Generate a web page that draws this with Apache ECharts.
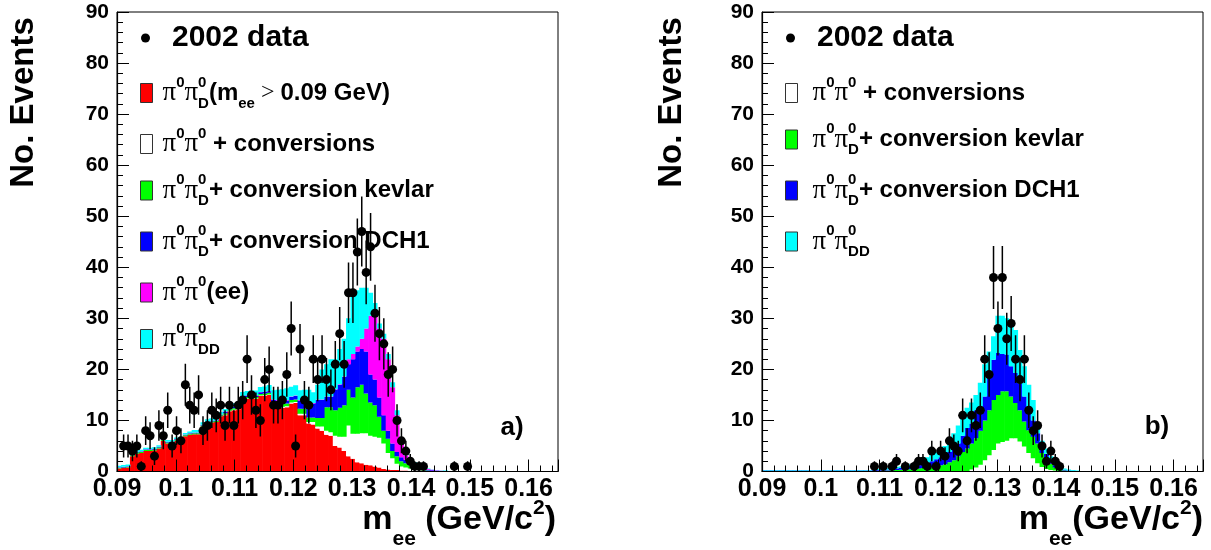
<!DOCTYPE html>
<html><head><meta charset="utf-8">
<script src="https://cdn.jsdelivr.net/npm/echarts@6/dist/echarts.min.js"></script>
<style>html,body{margin:0;padding:0;background:#fff}#c{width:1211px;height:550px}</style>
</head><body><div id="c"></div>
<script>
// Binning of the m_ee histograms (GeV)
const X_MIN = 0.09, X_MAX = 0.165, N_BINS = 100;
const xTickInterval = 0.01;
const yMin = 0, yMax = 90, yTickInterval = 10;

// ---------- panel a) ----------
const leftData = [
  0, 5, 5, 4, 5, 1, 8, 7, 3, 9,
  7, 12, 5, 8, 6, 17, 13, 12, 15, 8,
  9, 12, 11, 13, 9, 13, 9, 13, 14, 22,
  15, 12, 10, 18, 20, 13, 13, 14, 19, 28,
  5, 24, 14, 13, 22, 18, 22, 18, 16, 21,
  27, 21, 35, 35, 43, 47, 39, 44, 31, 27,
  25, 19, 20, 10, 6, 4, 2, 1, 1, 1,
  0, 0, 0, 0, 0, 0, 1, 0, 0, 1,
  0, 0, 0, 0, 0, 0, 0, 0, 0, 0,
  0, 0, 0, 0, 0, 0, 0, 0, 0, 0];
const leftRed = [
  0.6, 0.7, 0.8, 3.0, 3.5, 3.6, 4.0, 4.0, 4.1, 4.5,
  6.0, 5.5, 5.5, 6.0, 6.0, 6.9, 7.2, 7.3, 7.3, 8.8,
  9.4, 9.6, 9.7, 10.8, 11.0, 11.8, 12.0, 12.2, 14.0, 14.2,
  14.3, 14.2, 14.8, 14.9, 15.0, 13.0, 12.8, 12.5, 12.6, 13.3,
  13.4, 11.0, 11.0, 9.4, 9.2, 8.4, 8.0, 7.2, 7.0, 5.0,
  4.7, 4.0, 3.0, 2.5, 1.8, 1.6, 1.3, 1.2, 1.0, 0.8,
  0.5, 0.4, 0.3, 0.3, 0.2, 0.2, 0.1, 0, 0, 0,
  0, 0, 0, 0, 0, 0, 0, 0, 0, 0,
  0, 0, 0, 0, 0, 0, 0, 0, 0, 0,
  0, 0, 0, 0, 0, 0, 0, 0, 0, 0];
const leftWhite = [
  0, 0, 0, 0, 0, 0, 0, 0, 0, 0,
  0, 0, 0, 0, 0, 0, 0, 0, 0, 0,
  0, 0, 0, 0, 0.1, 0.1, 0.1, 0.1, 0.1, 0.1,
  0.1, 0.1, 0.1, 0.1, 0.1, 0.1, 0.1, 0.2, 0.2, 0.2,
  0.2, 0.3, 0.3, 0.3, 0.5, 0.4, 0.8, 0.8, 0.7, 2.0,
  2.1, 2.8, 6.0, 4.9, 5.6, 5.9, 6.2, 5.8, 5.8, 5.8,
  5.0, 3.2, 2.3, 1.2, 0.8, 0.6, 0.5, 0.4, 0.3, 0.2,
  0.1, 0.05, 0, 0, 0, 0, 0, 0, 0, 0,
  0, 0, 0, 0, 0, 0, 0, 0, 0, 0,
  0, 0, 0, 0, 0, 0, 0, 0, 0, 0];
const leftGreen = [
  0.1, 0.1, 0.1, 0.2, 0.2, 0.2, 0.2, 0.2, 0.2, 0.2,
  0.2, 0.2, 0.2, 0.2, 0.2, 0.2, 0.2, 0.2, 0.2, 0.2,
  0.2, 0.2, 0.2, 0.2, 0.3, 0.3, 0.3, 0.3, 0.3, 0.3,
  0.3, 0.3, 0.3, 0.3, 0.3, 0.4, 0.4, 0.5, 0.5, 0.5,
  0.5, 1.0, 1.0, 0.9, 0.9, 1.7, 1.7, 4.6, 4.9, 5.0,
  5.7, 6.2, 7.0, 7.1, 9.1, 9.5, 7.8, 6.5, 6.2, 4.1,
  2.5, 2.8, 1.4, 1.5, 1.0, 0.8, 0.7, 0.5, 0.2, 0.15,
  0.1, 0.05, 0.05, 0, 0, 0, 0, 0, 0, 0,
  0, 0, 0, 0, 0, 0, 0, 0, 0, 0,
  0, 0, 0, 0, 0, 0, 0, 0, 0, 0];
const leftBlue = [
  0.1, 0.1, 0.1, 0.1, 0.1, 0.1, 0.1, 0.1, 0.1, 0.1,
  0.1, 0.1, 0.1, 0.1, 0.1, 0.1, 0.1, 0.1, 0.1, 0.1,
  0.1, 0.1, 0.1, 0.1, 0.3, 0.3, 0.3, 0.3, 0.3, 0.3,
  0.3, 0.3, 0.3, 0.3, 0.3, 0.5, 0.6, 0.6, 0.6, 0.6,
  0.7, 1.6, 1.6, 2.7, 2.7, 3.5, 3.5, 2.0, 2.0, 4.0,
  4.5, 5.5, 5.0, 7.5, 7.0, 7.0, 8.2, 5.5, 5.0, 3.8,
  3.0, 1.6, 1.5, 0.8, 0.8, 0.7, 0.6, 0.4, 0.2, 0.15,
  0.15, 0.15, 0.1, 0.1, 0.05, 0, 0, 0, 0, 0,
  0, 0, 0, 0, 0, 0, 0, 0, 0, 0,
  0, 0, 0, 0, 0, 0, 0, 0, 0, 0];
const leftMagenta = [
  0.05, 0.05, 0.05, 0.05, 0.05, 0.05, 0.05, 0.05, 0.05, 0.05,
  0.05, 0.05, 0.05, 0.05, 0.05, 0.05, 0.05, 0.05, 0.05, 0.05,
  0.05, 0.05, 0.05, 0.05, 0.05, 0.05, 0.05, 0.05, 0.05, 0.05,
  0.05, 0.05, 0.05, 0.05, 0.05, 0.1, 0.1, 0.1, 0.1, 0.1,
  0.1, 0.1, 0.1, 0.1, 0.1, 0.1, 0.1, 0.1, 0.1, 0.1,
  0.1, 0.1, 1.0, 1.0, 1.0, 2.0, 4.5, 11.5, 13.0, 13.5,
  15.0, 14.0, 11.0, 7.2, 2.7, 0.9, 0.3, 0.3, 0.2, 0.2,
  0.15, 0.1, 0.1, 0.05, 0.05, 0.05, 0, 0, 0, 0,
  0, 0, 0, 0, 0, 0, 0, 0, 0, 0,
  0, 0, 0, 0, 0, 0, 0, 0, 0, 0];
const leftCyan = [
  0.3, 0.3, 0.3, 0.3, 0.3, 0.3, 0.3, 0.3, 0.3, 0.3,
  0.3, 0.3, 0.3, 0.3, 0.3, 0.3, 0.3, 0.5, 0.5, 0.5,
  0.5, 0.5, 0.5, 0.5, 0.5, 0.6, 0.6, 0.7, 0.8, 0.8,
  0.8, 0.9, 1.0, 1.0, 1.2, 1.8, 2.0, 2.2, 2.3, 1.9,
  2.0, 1.9, 2.0, 2.6, 2.1, 2.9, 5.9, 6.3, 7.3, 5.9,
  6.9, 7.4, 8.0, 12.0, 11.0, 10.0, 8.0, 4.5, 2.0, 1.0,
  1.0, 1.0, 1.0, 1.0, 0.5, 0.3, 0.3, 0.2, 0.1, 0.1,
  0.1, 0.05, 0.05, 0.05, 0.1, 0.05, 0, 0, 0, 0,
  0, 0, 0, 0, 0, 0, 0, 0, 0, 0,
  0, 0, 0, 0, 0, 0, 0, 0, 0, 0];

// ---------- panel b) ----------
const rightData = [
  0, 0, 0, 0, 0, 0, 0, 0, 0, 0,
  0, 0, 0, 0, 0, 0, 0, 0, 0, 0,
  0, 0, 0, 0, 0, 1, 0, 1, 0, 1,
  2, 0, 1, 0, 1, 2, 2, 1, 4, 1,
  4, 3, 6, 5, 4, 11, 6, 11, 9, 12,
  22, 19, 38, 28, 38, 26, 29, 22, 18, 22,
  12, 8, 9, 5, 2, 4, 2, 1, 0, 0,
  0, 0, 0, 0, 0, 0, 0, 0, 0, 0,
  0, 0, 0, 0, 0, 0, 0, 0, 0, 0,
  0, 0, 0, 0, 0, 0, 0, 0, 0, 0];
const rightWhite = [
  0, 0, 0, 0, 0, 0, 0, 0, 0, 0,
  0, 0, 0, 0, 0, 0, 0, 0, 0, 0,
  0, 0, 0, 0, 0, 0, 0, 0, 0, 0,
  0, 0, 0, 0, 0, 0, 0, 0, 0, 0,
  0, 0, 0, 0, 0, 0, 0.1, 0.4, 0.8, 1.3,
  2.2, 3.2, 4.2, 5.5, 5.8, 6.0, 6.5, 6.5, 5.9, 4.9,
  3.6, 2.6, 1.6, 0.9, 0.5, 0.3, 0.2, 0.1, 0, 0,
  0, 0, 0, 0, 0, 0, 0, 0, 0, 0,
  0, 0, 0, 0, 0, 0, 0, 0, 0, 0,
  0, 0, 0, 0, 0, 0, 0, 0, 0, 0];
const rightGreen = [
  0.1, 0.1, 0.1, 0.1, 0.1, 0.1, 0.1, 0.1, 0.1, 0.1,
  0.1, 0.1, 0.1, 0.1, 0.1, 0.1, 0.1, 0.1, 0.1, 0.1,
  0.1, 0.1, 0.1, 0.1, 0.1, 0.15, 0.15, 0.2, 0.2, 0.25,
  0.3, 0.35, 0.4, 0.45, 0.5, 0.6, 0.7, 0.8, 0.9, 1.0,
  1.2, 1.4, 1.8, 2.2, 3.0, 3.8, 4.4, 5.1, 5.7, 6.7,
  7.8, 8.8, 9.8, 9.5, 9.9, 9.7, 8.2, 6.9, 6.1, 4.9,
  4.5, 4.2, 3.9, 2.7, 2.0, 1.2, 0.6, 0.3, 0.2, 0.1,
  0.05, 0, 0.02, 0.02, 0.02, 0.02, 0.02, 0.02, 0.02, 0,
  0, 0, 0, 0, 0, 0, 0, 0, 0, 0,
  0, 0, 0, 0, 0, 0, 0, 0, 0, 0];
const rightBlue = [
  0.1, 0.1, 0.1, 0.1, 0.1, 0.1, 0.1, 0.1, 0.1, 0.1,
  0.1, 0.1, 0.1, 0.1, 0.1, 0.1, 0.1, 0.1, 0.1, 0.1,
  0.1, 0.1, 0.1, 0.1, 0.1, 0.15, 0.15, 0.15, 0.2, 0.25,
  0.3, 0.35, 0.4, 0.45, 0.5, 0.6, 0.7, 0.9, 1.1, 1.4,
  1.6, 1.8, 2.0, 2.0, 2.5, 3.2, 4.0, 3.9, 5.5, 4.7,
  4.7, 7.3, 7.9, 8.2, 7.3, 7.2, 5.9, 5.9, 5.3, 4.9,
  3.9, 3.2, 2.0, 1.4, 1.0, 0.7, 0.4, 0.2, 0.15, 0.1,
  0.1, 0.1, 0.02, 0.02, 0.02, 0.02, 0.02, 0.02, 0.02, 0,
  0, 0, 0, 0, 0, 0, 0, 0, 0, 0,
  0, 0, 0, 0, 0, 0, 0, 0, 0, 0];
const rightCyan = [
  0.1, 0.1, 0.1, 0.1, 0.1, 0.1, 0.1, 0.1, 0.1, 0.1,
  0.1, 0.1, 0.1, 0.1, 0.1, 0.1, 0.1, 0.1, 0.1, 0.1,
  0.1, 0.1, 0.1, 0.1, 0.1, 0.2, 0.2, 0.25, 0.3, 0.3,
  0.3, 0.3, 0.4, 0.5, 0.6, 0.8, 1.0, 1.1, 1.3, 1.4,
  1.7, 1.8, 2.2, 3.3, 3.5, 3.5, 4.0, 4.1, 3.0, 4.7,
  6.3, 4.2, 4.6, 7.3, 7.5, 7.1, 9.0, 8.4, 6.5, 5.9,
  5.0, 4.0, 1.5, 1.0, 1.0, 0.8, 0.6, 0.4, 0.25, 0.2,
  0.15, 0.1, 0.02, 0.02, 0.02, 0.02, 0.02, 0.02, 0.02, 0,
  0, 0, 0, 0, 0, 0, 0, 0, 0, 0,
  0, 0, 0, 0, 0, 0, 0, 0, 0, 0];

const COLORS = {red:'#ff0000', white:'#ffffff', green:'#00ff00', blue:'#0000ff', magenta:'#ff00ff', cyan:'#00ffff'};

// ---------- builders ----------
const binWidth = (X_MAX - X_MIN) / N_BINS;
const binCenter = i => X_MIN + binWidth * (i + 0.5);

function histSeries(name, gi, comps, idx, color) {
  const data = [];
  for (let i = 0; i < N_BINS; i++) {
    let base = 0;
    for (let k = 0; k < idx; k++) base += comps[k][i];
    const v = comps[idx][i];
    if (v > 0) data.push([binCenter(i), base, base + v]);
  }
  return {
    type: 'custom', name, xAxisIndex: gi, yAxisIndex: gi, z: 2, silent: true, clip: true,
    itemStyle: {color}, encode: {x: 0, y: 2}, data,
    renderItem: (params, api) => {
      const xc = api.value(0), b = api.value(1), t = api.value(2);
      const p0 = api.coord([xc - binWidth / 2, b]);
      const p1 = api.coord([xc + binWidth / 2, t]);
      return {type: 'rect',
        shape: {x: p0[0] - 0.3, y: p1[1], width: p1[0] - p0[0] + 0.6, height: p0[1] - p1[1]},
        style: {fill: color}};
    }
  };
}
function dataPoints(counts) {
  const pts = [];
  counts.forEach((c, i) => { if (c > 0) pts.push([binCenter(i), c, Math.sqrt(c)]); });
  return pts;
}
function errSeries(gi, pts) {
  return {
    type: 'custom', xAxisIndex: gi, yAxisIndex: gi, z: 3, silent: true, clip: true,
    encode: {x: 0, y: 1}, data: pts,
    renderItem: (params, api) => {
      const x = api.value(0), y = api.value(1), e = api.value(2);
      const a = api.coord([x, y - e]), b = api.coord([x, y + e]);
      return {type: 'line', shape: {x1: a[0], y1: a[1], x2: b[0], y2: b[1]},
        style: {stroke: '#000', lineWidth: 1.5}};
    }
  };
}
function scatterSeries(name, gi, pts) {
  return {type: 'scatter', name, xAxisIndex: gi, yAxisIndex: gi, z: 4, silent: true,
    symbol: 'circle', symbolSize: 9, itemStyle: {color: '#000', opacity: 1},
    data: pts.map(p => [p[0], p[1]])};
}

const FONT = 'Liberation Sans';
function xAx(gi) {
  return {type: 'value', gridIndex: gi, min: X_MIN, max: X_MAX, interval: xTickInterval, z: 10,
    axisLine: {show: true, onZero: false, lineStyle: {color: '#000', width: 1.2}},
    axisTick: {show: true, inside: true, length: 12, lineStyle: {color: '#000', width: 1}},
    minorTick: {show: true, splitNumber: 5, length: 6, lineStyle: {color: '#000', width: 1}},
    splitLine: {show: false}, minorSplitLine: {show: false},
    axisLabel: {show: true, showMaxLabel: false, margin: 5, color: '#000', fontFamily: FONT,
      fontWeight: 'bold', fontSize: 25, formatter: v => String(+(+v).toFixed(3))}};
}
function yAx(gi) {
  return {type: 'value', gridIndex: gi, min: yMin, max: yMax, interval: yTickInterval, z: 10,
    axisLine: {show: true, onZero: false, lineStyle: {color: '#000', width: 1.2}},
    axisTick: {show: true, inside: true, length: 12, lineStyle: {color: '#000', width: 1}},
    minorTick: {show: true, splitNumber: 5, length: 6, lineStyle: {color: '#000', width: 1}},
    splitLine: {show: false}, minorSplitLine: {show: false},
    axisLabel: {margin: 8, color: '#000', fontFamily: FONT, fontWeight: 'bold', fontSize: 21}};
}
function grid(left) {
  return {left, top: 12, width: 441, height: 459.5, show: true, borderColor: '#000', borderWidth: 1,
    backgroundColor: 'rgba(0,0,0,0)', containLabel: false, outerBoundsMode: 'none'};
}

const RICH = {
  big: {fontFamily: FONT, fontWeight: 'bold', fontSize: 30, lineHeight: 40, color: '#000'},
  p: {fontFamily: 'Liberation Serif', fontSize: 27, lineHeight: 36, color: '#000'},
  t: {fontFamily: FONT, fontWeight: 'bold', fontSize: 24, lineHeight: 36, color: '#000'},
  g: {fontFamily: 'Liberation Serif', fontSize: 24, lineHeight: 36, color: '#000'},
  s0: {fontFamily: FONT, fontWeight: 'bold', fontSize: 15, lineHeight: 24, verticalAlign: 'top', color: '#000'},
  sz: {fontFamily: FONT, fontWeight: 'bold', fontSize: 15, lineHeight: 24, verticalAlign: 'top', width: 0, color: '#000'},
  d: {fontFamily: FONT, fontWeight: 'bold', fontSize: 15, lineHeight: 10, verticalAlign: 'bottom', color: '#000'}
};
const LABELS = {
  'L data': '{big|2002 data}',
  'R data': '{big|2002 data}',
  'L red': '{p|π}{s0|0}{p|π}{sz|0}{d|D}{t|(m}{d|ee}{g| > }{t|0.09 GeV)}',
  'L white': '{p|π}{s0|0}{p|π}{s0|0}{t| + conversions}',
  'R white': '{p|π}{s0|0}{p|π}{s0|0}{t| + conversions}',
  'L green': '{p|π}{s0|0}{p|π}{sz|0}{d|D}{t|+ conversion kevlar}',
  'R green': '{p|π}{s0|0}{p|π}{sz|0}{d|D}{t|+ conversion kevlar}',
  'L blue': '{p|π}{s0|0}{p|π}{sz|0}{d|D}{t|+ conversion DCH1}',
  'R blue': '{p|π}{s0|0}{p|π}{sz|0}{d|D}{t|+ conversion DCH1}',
  'L magenta': '{p|π}{s0|0}{p|π}{s0|0}{t|(ee)}',
  'L cyan': '{p|π}{s0|0}{p|π}{sz|0}{d|DD}',
  'R cyan': '{p|π}{s0|0}{p|π}{sz|0}{d|DD}'
};
function dataLegend(left, name) {
  return {orient: 'vertical', left, top: 18, itemWidth: 9, itemHeight: 9, icon: 'circle',
    selectedMode: false, data: [name], formatter: n => LABELS[n],
    itemStyle: {color: '#000', opacity: 1},
    textStyle: {rich: RICH, padding: [0, 0, 0, 17]}};
}
function mcLegend(left, names, pad) {
  return {orient: 'vertical', left, top: 70, itemWidth: 12, itemHeight: 19, itemGap: 15, icon: 'rect',
    selectedMode: false, data: names, formatter: n => LABELS[n],
    itemStyle: {borderColor: '#333', borderWidth: 1},
    textStyle: {rich: RICH, padding: [0, 0, 0, pad]}};
}

const leftComps = [leftRed, leftWhite, leftGreen, leftBlue, leftMagenta, leftCyan];
const leftNames = ['L red', 'L white', 'L green', 'L blue', 'L magenta', 'L cyan'];
const leftCols = [COLORS.red, COLORS.white, COLORS.green, COLORS.blue, COLORS.magenta, COLORS.cyan];
const rightComps = [rightWhite, rightGreen, rightBlue, rightCyan];
const rightNames = ['R white', 'R green', 'R blue', 'R cyan'];
const rightCols = [COLORS.white, COLORS.green, COLORS.blue, COLORS.cyan];

const series = [];
leftComps.forEach((c, k) => series.push(histSeries(leftNames[k], 0, leftComps, k, leftCols[k])));
rightComps.forEach((c, k) => series.push(histSeries(rightNames[k], 1, rightComps, k, rightCols[k])));
const lp = dataPoints(leftData), rp = dataPoints(rightData);
series.push(errSeries(0, lp), scatterSeries('L data', 0, lp));
series.push(errSeries(1, rp), scatterSeries('R data', 1, rp));

const titleRich = {
  m: {fontFamily: FONT, fontWeight: 'bold', fontSize: 34, lineHeight: 60, fill: '#000'},
  sub: {fontFamily: FONT, fontWeight: 'bold', fontSize: 21, lineHeight: 20, verticalAlign: 'bottom', fill: '#000'},
  sup: {fontFamily: FONT, fontWeight: 'bold', fontSize: 21, lineHeight: 22, verticalAlign: 'top',
    padding: [8, 0, 0, 0], fill: '#000'}
};
function txt(x, y, text, size, rot) {
  return {type: 'text', x, y, rotation: rot || 0, z: 20,
    style: {text, fill: '#000', fontFamily: FONT, fontWeight: 'bold', fontSize: size,
      align: 'center', verticalAlign: 'middle', textAlign: 'center', textVerticalAlign: 'middle'}};
}
function richTxt(x, y, text) {
  return {type: 'text', x, y, z: 20,
    style: {text, rich: titleRich, fill: '#000', align: 'right', verticalAlign: 'middle',
      textAlign: 'right', textVerticalAlign: 'middle'}};
}

const chart = echarts.init(document.getElementById('c'), null, {renderer: 'canvas'});
chart.setOption({
  animation: false,
  backgroundColor: '#fff',
  grid: [grid(117), grid(762)],
  xAxis: [xAx(0), xAx(1)],
  yAxis: [yAx(0), yAx(1)],
  legend: [
    dataLegend(136, 'L data'),
    mcLegend(135, leftNames, 5),
    dataLegend(781, 'R data'),
    mcLegend(780, rightNames, 10)
  ],
  graphic: [
    txt(24, 102.5, 'No. Events', 33, Math.PI / 2),
    txt(672, 102.5, 'No. Events', 33, Math.PI / 2),
    richTxt(556, 520, '{m|m}{sub|ee}{m| (GeV/c}{sup|2}{m|)}'),
    richTxt(1203, 520, '{m|m}{sub|ee}{m|(GeV/c}{sup|2}{m|)}'),
    txt(512, 428, 'a)', 26),
    txt(1157, 427, 'b)', 26)
  ],
  series
});
</script>
</body></html>
